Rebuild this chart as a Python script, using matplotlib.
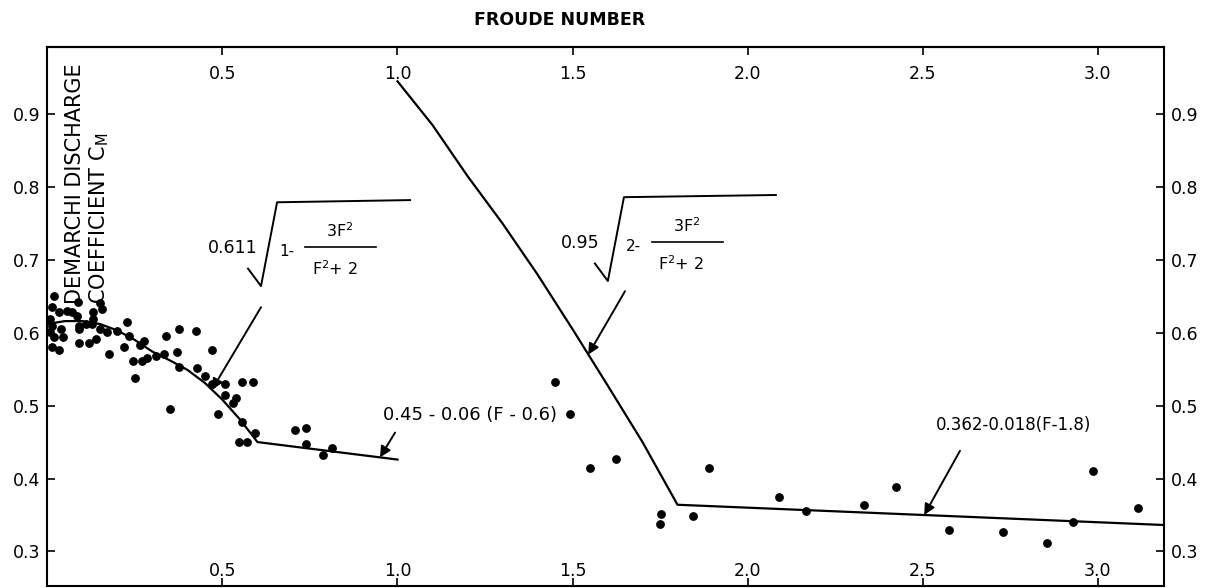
import matplotlib
matplotlib.use("Agg")
import matplotlib.pyplot as plt

plt.rcParams['font.family'] = ['DejaVu Sans']
plt.rcParams['mathtext.default'] = 'regular'

# fitted curves
curve1_F = [0.0, 0.05, 0.1, 0.15, 0.2, 0.25, 0.3, 0.35, 0.4, 0.45, 0.5, 0.55, 0.6, 1.0]
curve1_C = [0.612, 0.616, 0.616, 0.612, 0.603, 0.590, 0.574, 0.562, 0.549, 0.531, 0.508, 0.481, 0.450, 0.426]
curve2_F = [1.0, 1.1, 1.2, 1.3, 1.4, 1.5, 1.6, 1.7, 1.8, 3.2]
curve2_C = [0.945, 0.885, 0.815, 0.750, 0.680, 0.605, 0.528, 0.450, 0.364, 0.336]

# measured points, low Froude numbers
low_F = [0.020, 0.086, 0.149, 0.157, 0.014, 0.034, 0.006, 0.057, 0.071, 0.083,
         0.129, 0.129, 0.126, 0.014, 0.040, 0.006, 0.020, 0.043, 0.014, 0.034,
         0.091, 0.111, 0.091, 0.226, 0.149, 0.171, 0.200, 0.234, 0.091, 0.120,
         0.140, 0.177, 0.220, 0.263, 0.277, 0.340, 0.377, 0.423, 0.243, 0.269,
         0.283, 0.311, 0.334, 0.371, 0.471, 0.377, 0.426, 0.449, 0.469, 0.506,
         0.557, 0.586, 0.506, 0.540, 0.529, 0.349, 0.486, 0.557, 0.594, 0.546,
         0.571, 0.706, 0.740, 0.740, 0.786, 0.814, 0.249]
low_C = [0.651, 0.642, 0.641, 0.632, 0.635, 0.628, 0.619, 0.630, 0.628, 0.623,
         0.628, 0.619, 0.612, 0.609, 0.605, 0.601, 0.594, 0.594, 0.580, 0.576,
         0.609, 0.612, 0.605, 0.615, 0.605, 0.601, 0.603, 0.595, 0.586, 0.586,
         0.591, 0.571, 0.580, 0.583, 0.588, 0.595, 0.605, 0.603, 0.561, 0.561,
         0.565, 0.568, 0.571, 0.573, 0.576, 0.553, 0.552, 0.541, 0.530, 0.529,
         0.532, 0.533, 0.515, 0.511, 0.503, 0.496, 0.488, 0.477, 0.462, 0.450,
         0.450, 0.466, 0.469, 0.447, 0.432, 0.442, 0.538]
# measured points, high Froude numbers
high_F = [1.451, 1.494, 1.549, 1.623, 1.754, 1.751, 1.843, 1.889, 2.090,
          2.166, 2.334, 2.423, 2.577, 2.729, 2.857, 2.929, 2.986, 3.117]
high_C = [0.532, 0.489, 0.415, 0.427, 0.351, 0.337, 0.349, 0.414, 0.374,
          0.356, 0.364, 0.389, 0.329, 0.326, 0.311, 0.341, 0.410, 0.360]

xticks = [0.5, 1.0, 1.5, 2.0, 2.5, 3.0]
yticks = [0.3, 0.4, 0.5, 0.6, 0.7, 0.8, 0.9]
xlabels = ['%.1f' % v for v in xticks]
ylabels = ['%.1f' % v for v in yticks]

fig = plt.figure(figsize=(12.05, 5.88), dpi=100)
ax = fig.add_axes([0.0394, 0.004, 0.9266, 0.916])

ax.plot(curve1_F, curve1_C, color='black', lw=1.6)
ax.plot(curve2_F, curve2_C, color='black', lw=1.6)
ax.scatter(low_F + high_F, low_C + high_C, s=28, color='black', zorder=3)

ax.set_xlim(0, 3.19)
ax.set_ylim(0.253, 0.992)
for sp in ax.spines.values():
    sp.set_linewidth(1.5)

ax.set_xticks(xticks)
ax.set_xticklabels(xlabels)
ax.set_yticks(yticks)
ax.set_yticklabels(ylabels)
ax.tick_params(axis='x', direction='in', top=False, bottom=True, labeltop=False,
               labelbottom=True, length=6, width=1.2, pad=-17, labelsize=12.5)
ax.tick_params(axis='y', direction='in', left=True, right=True, labelleft=True,
               labelright=True, length=6, width=1.2, pad=5, labelsize=12.5)

# top scale, labels sit a little further inside
top = ax.secondary_xaxis('top')
top.set_xticks(xticks)
top.set_xticklabels(xlabels)
top.tick_params(direction='in', length=6, width=1.2, pad=-26, labelsize=12.5)
top.spines['top'].set_linewidth(1.5)

fig.text(0.4647, 0.966, 'FROUDE NUMBER', ha='center', va='center',
         fontsize=12.5, fontweight='bold')

ax.text(0.05, 0.640, 'DEMARCHI DISCHARGE\nCOEFFICIENT C$_M$', rotation=90,
        ha='left', va='bottom', multialignment='left', fontsize=15, linespacing=1.15)

arrow = dict(arrowstyle='-|>', lw=1.4, color='black', mutation_scale=16,
             shrinkA=0, shrinkB=0)


def radical(coef, inner, x, y, w):
    # coefficient, square-root sign, "inner -" and the 3F^2/(F^2+2) fraction
    ax.text(x, y, coef, ha='center', va='center', fontsize=12.5)
    ax.plot([x + 0.043, x + 0.08, x + 0.126, x + w],
            [y - 0.028, y - 0.052, y + 0.063, y + 0.066], color='black', lw=1.4)
    ax.text(x + 0.154, y - 0.004, inner + '-', ha='center', va='center', fontsize=11)
    ax.plot([x + 0.206, x + 0.41], [y + 0.002, y + 0.002], color='black', lw=1.2)
    ax.text(x + 0.305, y + 0.024, '3F$^2$', ha='center', va='center', fontsize=11.5)
    ax.text(x + 0.29, y - 0.028, 'F$^2$+ 2', ha='center', va='center', fontsize=11.5)


radical('0.611', '1', 0.53, 0.716, 0.506)
ax.annotate('', xy=(0.47, 0.522), xytext=(0.61, 0.635), arrowprops=arrow)

radical('0.95', '2', 1.521, 0.723, 0.56)
ax.annotate('', xy=(1.545, 0.570), xytext=(1.65, 0.657), arrowprops=arrow)

ax.text(0.959, 0.487, '0.45 - 0.06 (F - 0.6)', ha='left', va='center', fontsize=13)
ax.annotate('', xy=(0.95, 0.429), xytext=(0.993, 0.463), arrowprops=arrow)

ax.text(2.761, 0.473, '0.362-0.018(F-1.8)', ha='center', va='center', fontsize=12)
ax.annotate('', xy=(2.505, 0.350), xytext=(2.607, 0.438), arrowprops=arrow)

fig.savefig('out.png', dpi=100)
